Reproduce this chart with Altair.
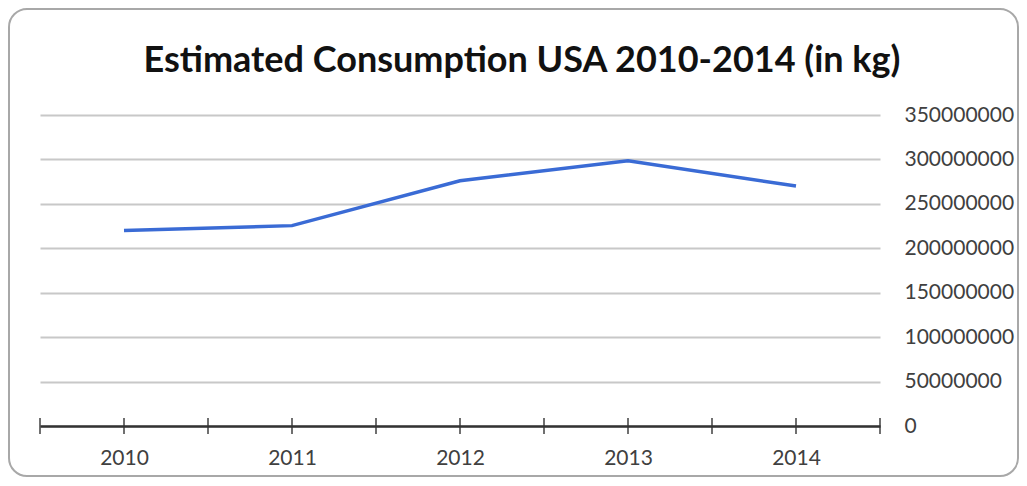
import altair as alt
import pandas as pd

years = [2010, 2011, 2012, 2013, 2014]
consumption = [220000000, 225500000, 276000000, 298500000, 270000000]
y_ticks = [0, 50000000, 100000000, 150000000, 200000000, 250000000, 300000000, 350000000]
title_text = "Estimated Consumption USA 2010-2014 (in kg)"

# tick marks on the category axis: band edges and band centres
tick_pos = sorted(set([y - 0.5 for y in years] + years + [years[-1] + 0.5]))

df = pd.DataFrame({"Year": years, "Consumption": consumption})
ticks_df = pd.DataFrame({"pos": tick_pos})
box_df = pd.DataFrame({"k": [0]})

xscale = alt.Scale(domain=[years[0] - 0.5, years[-1] + 0.5], nice=False, zero=False)
yscale = alt.Scale(domain=[0, 350000000], nice=False)

FONT = "Lato"

line = alt.Chart(df).mark_line(color="#3a6bd5", strokeWidth=3.5).encode(
    x=alt.X("Year:Q", scale=xscale,
            axis=alt.Axis(values=years, format="d", title=None, grid=False,
                          ticks=False, domain=True, domainColor="#333333",
                          domainWidth=2.5, labelPadding=21, labelFontSize=21,
                          labelFont=FONT, labelColor="#404040")),
    y=alt.Y("Consumption:Q", scale=yscale,
            axis=alt.Axis(orient="right", values=y_ticks, format="d", title=None,
                          grid=True, gridColor="#c8c8c8", gridWidth=2,
                          ticks=False, domain=False, labelPadding=24,
                          labelFontSize=21, labelFont=FONT, labelColor="#404040",
                          labelAlign="left", labelBaseline="middle")),
)

tick_layer = alt.Chart(ticks_df).mark_tick(
    color="#333333", thickness=2, size=16, orient="vertical"
).encode(
    x=alt.X("pos:Q", scale=xscale),
    y=alt.datum(0),
)

border = alt.Chart(box_df).mark_rect(
    fill="transparent", stroke="#a8a8a8", strokeWidth=2, cornerRadius=18
).encode(
    x=alt.value(-31), x2=alt.value(978), y=alt.value(-106), y2=alt.value(361)
)

chart = alt.layer(border, line, tick_layer).properties(
    width=840,
    height=311,
    background="white",
    title=alt.TitleParams(title_text, font=FONT, fontSize=36, fontWeight="bold",
                          color="#111111", anchor="middle", frame="group",
                          dx=62, offset=-72),
    autosize=alt.AutoSizeParams(type="none"),
    padding={"left": 32, "top": 107, "right": 139, "bottom": 52},
).configure_view(strokeWidth=0, stroke="transparent")

chart.save("out.html", embed_options={"renderer": "svg", "actions": False})
